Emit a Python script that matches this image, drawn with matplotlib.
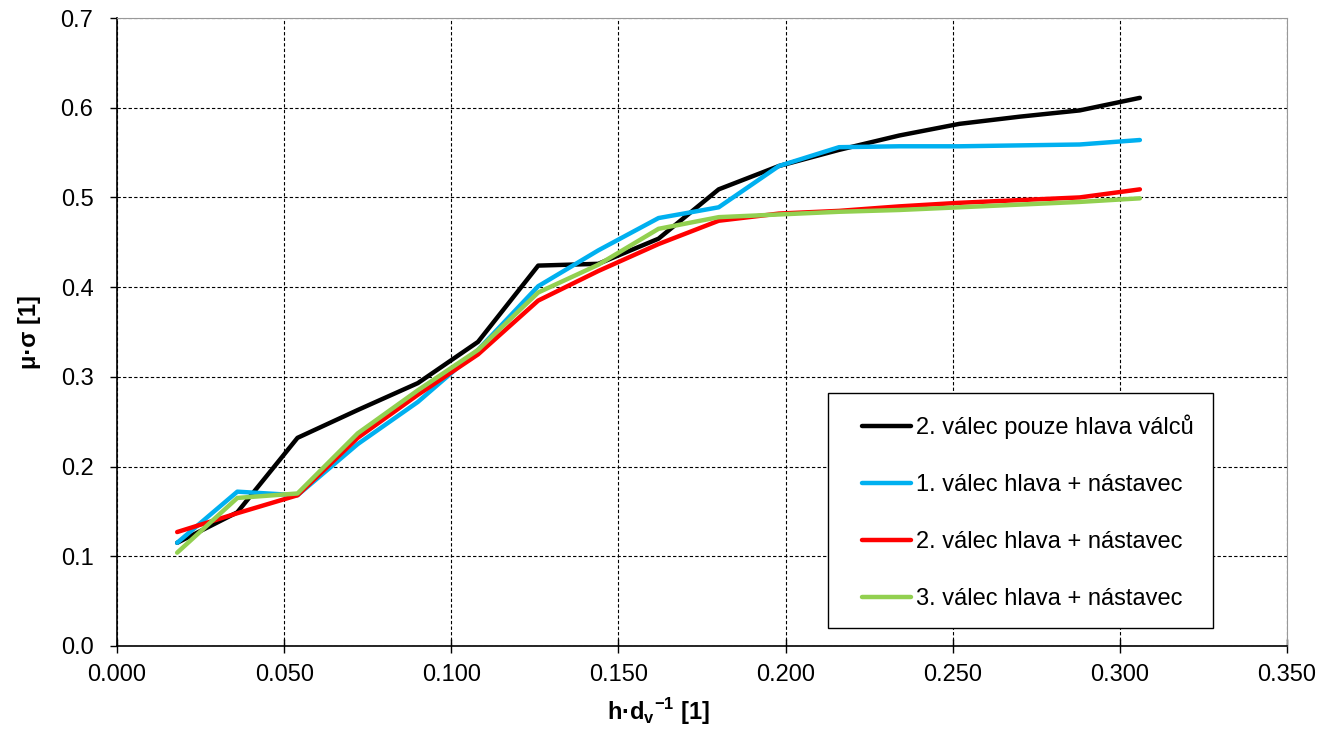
import matplotlib
matplotlib.use('Agg')
import matplotlib.pyplot as plt
from matplotlib.patches import Rectangle

# data
x = [0.018, 0.036, 0.054, 0.072, 0.090, 0.108, 0.126, 0.144, 0.162,
     0.180, 0.198, 0.216, 0.234, 0.252, 0.270, 0.288, 0.306]
valec2_hlava = [0.115, 0.149, 0.232, 0.263, 0.293, 0.339, 0.424, 0.426, 0.454,
                0.509, 0.535, 0.553, 0.569, 0.582, 0.590, 0.597, 0.611]
valec1_nast = [0.115, 0.172, 0.168, 0.225, 0.272, 0.330, 0.401, 0.441, 0.477,
               0.489, 0.535, 0.556, 0.557, 0.557, 0.558, 0.559, 0.564]
valec2_nast = [0.127, 0.148, 0.168, 0.232, 0.280, 0.325, 0.385, 0.418, 0.448,
               0.474, 0.482, 0.485, 0.490, 0.494, 0.497, 0.500, 0.509]
valec3_nast = [0.104, 0.165, 0.170, 0.237, 0.285, 0.330, 0.394, 0.425, 0.465,
               0.478, 0.481, 0.484, 0.486, 0.489, 0.492, 0.495, 0.499]
labels = ['2. válec pouze hlava válců', '1. válec hlava + nástavec',
          '2. válec hlava + nástavec', '3. válec hlava + nástavec']
colors = ['black', '#00B0F0', '#FF0000', '#92D050']

plt.rcParams['font.family'] = ['Liberation Sans', 'DejaVu Sans']
plt.rcParams['mathtext.fontset'] = 'custom'
plt.rcParams['mathtext.rm'] = 'Liberation Sans'
plt.rcParams['mathtext.bf'] = 'Liberation Sans:bold'

fig = plt.figure(figsize=(13.28, 7.29), dpi=100)
ax = fig.add_axes([0.0881, 0.1139, 0.8810, 0.8614])

for ys, lab, c in zip([valec2_hlava, valec1_nast, valec2_nast, valec3_nast], labels, colors):
    ax.plot(x, ys, color=c, lw=3.2, label=lab, solid_capstyle='round')

ax.set_xlim(0, 0.35)
ax.set_ylim(0, 0.7)
ax.set_xticks([i * 0.05 for i in range(8)])
ax.set_yticks([i * 0.1 for i in range(8)])
ax.set_xticklabels(['%.3f' % (i * 0.05) for i in range(8)])
ax.set_yticklabels(['%.1f' % (i * 0.1) for i in range(8)])
ax.tick_params(labelsize=17, width=1, colors='black')
ax.tick_params(axis='x', direction='inout', length=10, pad=8)
ax.tick_params(axis='y', direction='out', length=5, pad=12)
ax.grid(True, color='black', linestyle=(0, (3, 2)), linewidth=0.8)
ax.set_axisbelow(True)
for s in ['top', 'right']:
    ax.spines[s].set_color('#999999')
for s in ['left', 'bottom']:
    ax.spines[s].set_color('black')
    ax.spines[s].set_linewidth(1.2)

ax.set_xlabel(r'h·d$_{\mathbf{v}}$$^{\mathbf{-1}}$ [1]', fontsize=17, fontweight='bold', va='center')
ax.xaxis.set_label_coords(0.463, -0.104)
ax.set_ylabel('μ·σ [1]', fontsize=17, fontweight='bold', labelpad=14)

# legend frame drawn separately (Excel pads it more on the sides)
ax.add_patch(Rectangle((0.608, 0.029), 0.329, 0.374, transform=ax.transAxes,
                       facecolor='white', edgecolor='black', lw=1.0, zorder=4))
leg = ax.legend(loc='center left', bbox_to_anchor=(0.637, 0.2126),
                fontsize=17, frameon=False,
                handlelength=2.08, handletextpad=0.2, labelspacing=1.48, borderpad=0,
                borderaxespad=0)
leg.set_zorder(5)

fig.savefig('out.png', dpi=100)
